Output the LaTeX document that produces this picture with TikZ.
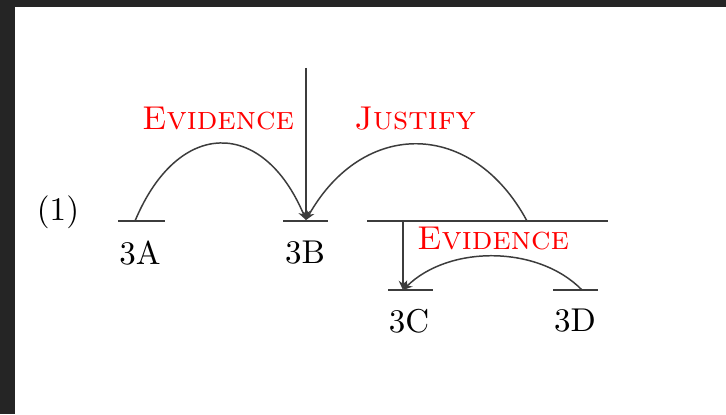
\documentclass[tikz,border=0pt]{standalone}
\usepackage{tikz}
\usepackage{xcolor}
\usetikzlibrary{arrows.meta,positioning}
\definecolor{framegray}{RGB}{37,37,37}
\definecolor{linkgray}{RGB}{60,60,60}
\definecolor{relred}{RGB}{255,0,0}

\begin{document}
\begin{tikzpicture}[
    x=0.303pt,y=-0.303pt,
    tok/.style={inner sep=0pt,font=\normalsize},
    rel/.style={inner sep=0pt,text=relred,font=\normalsize\scshape},
    bar/.style={draw=linkgray,line width=0.45pt},
    arrow/.style={-{Stealth[length=2.8pt,width=2.6pt]},draw=linkgray,line width=0.45pt}
  ]
    \fill[framegray] (0,0) rectangle (726,414);
    \fill[white] (15,7) rectangle (726,414);
    \useasboundingbox (0,0) rectangle (726,414);
    \node[tok] (ex) at (58,212) {(1)};
    \coordinate (aL) at (118,221);
    \coordinate (aR) at (165,221);
    \coordinate (aA) at (135,221);
    \coordinate (bL) at (283,221);
    \coordinate (bR) at (328,221);
    \coordinate (bA) at (306,220);
    \coordinate (top) at (306,68);
    \coordinate (sL) at (367,221);
    \coordinate (sR) at (608,221);
    \coordinate (sA) at (527,221);
    \coordinate (sV) at (403,221);
    \coordinate (cL) at (388,290);
    \coordinate (cR) at (433,290);
    \coordinate (cA) at (403,290);
    \coordinate (dL) at (553,290);
    \coordinate (dR) at (598,290);
    \coordinate (dA) at (582,290);
    \node[tok] (t3A) at (140,253) {3A};
    \node[tok] (t3B) at (305,253) {3B};
    \node[tok] (t3C) at (409,321) {3C};
    \node[tok] (t3D) at (575,321) {3D};
    \node[rel] (ev1) at (218,119) {Evidence};
    \node[rel] (just) at (415,119) {Justify};
    \node[rel] (ev2) at (493,239) {Evidence};
    \draw[bar] (aL) -- (aR);
    \draw[bar] (bL) -- (bR);
    \draw[bar] (sL) -- (sR);
    \draw[bar] (cL) -- (cR);
    \draw[bar] (dL) -- (dR);
    \draw[arrow] (top) -- (bA);
    \draw[arrow] (aA) .. controls (178,118) and (263,118) .. (bA);
    \draw[arrow] (sA) .. controls (472,119) and (363,119) .. (bA);
    \draw[arrow] (sV) -- (cA);
    \draw[arrow] (dA) .. controls (538,245) and (449,245) .. (cA);
  \end{tikzpicture}
\end{document}
